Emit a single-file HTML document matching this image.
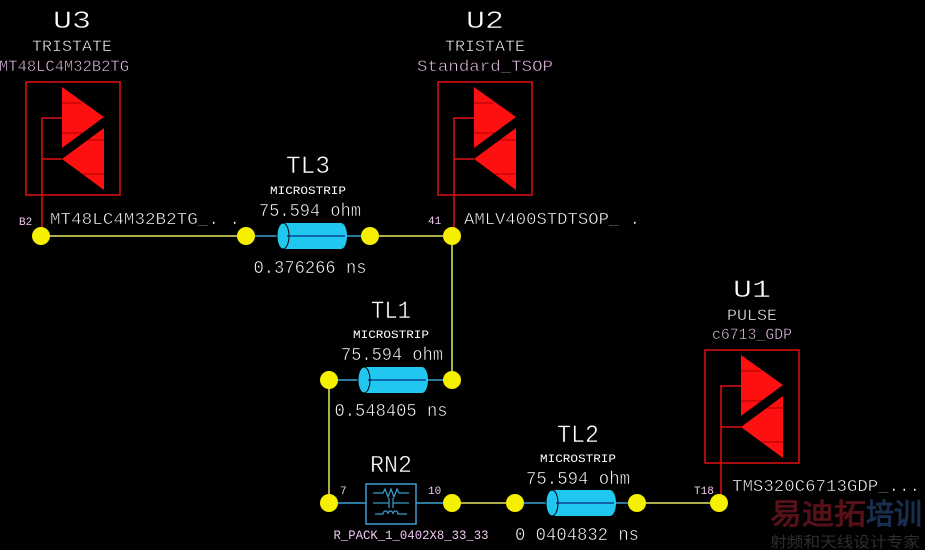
<!DOCTYPE html>
<html><head><meta charset="utf-8"><style>
html,body{margin:0;padding:0;background:#000;}
svg{display:block}
text{font-family:"Liberation Mono","DejaVu Sans Mono",monospace;}
.thin text{stroke:#000;stroke-width:0.5px;}
</style></head><body>
<svg width="925" height="550" viewBox="0 0 925 550" xmlns="http://www.w3.org/2000/svg">
<defs>
<g id="comp">
  <rect x="0" y="0" width="94" height="113" fill="none" stroke="#e01010" stroke-width="1.5"/>
  <polygon points="36,5 78,35 36,66" fill="#ff1010"/>
  <polygon points="78,46 36,77 78,108" fill="#ff1010"/>
  <line x1="36" y1="21" x2="56" y2="21" stroke="#a00" stroke-width="1"/>
  <line x1="36" y1="51" x2="56" y2="51" stroke="#a00" stroke-width="1"/>
  <line x1="62" y1="58" x2="78" y2="58" stroke="#a00" stroke-width="1"/>
  <line x1="56" y1="92" x2="78" y2="92" stroke="#a00" stroke-width="1"/>
  <polyline points="36,36 16,36 16,154" fill="none" stroke="#e01010" stroke-width="1.5"/>
  <line x1="16" y1="77" x2="36" y2="77" stroke="#e01010" stroke-width="1.5"/>
</g>
<g id="cyl">
  <path d="M0,-13 L58,-13 A6,13 0 0 1 58,13 L0,13 A6,13 0 0 1 0,-13 Z" fill="#20c8f0"/>
  <ellipse cx="0" cy="0" rx="6" ry="13" fill="none" stroke="#000" stroke-width="1"/>
  <line x1="4" y1="0" x2="62" y2="0" stroke="#006" stroke-width="1"/>
</g>
</defs>

<g stroke="#e8e860" stroke-width="1.5" fill="none">
  <line x1="41" y1="236" x2="246" y2="236"/>
  <line x1="370" y1="236" x2="452" y2="236"/>
  <line x1="452" y1="236" x2="452" y2="380"/>
  <line x1="329" y1="380" x2="329" y2="503"/>
  <line x1="452" y1="503" x2="515" y2="503"/>
  <line x1="637" y1="503" x2="719" y2="503"/>
</g>
<g stroke="#3aa0d0" stroke-width="1.5">
  <line x1="246" y1="236" x2="370" y2="236"/>
  <line x1="329" y1="380" x2="452" y2="380"/>
  <line x1="515" y1="503" x2="637" y2="503"/>
  <line x1="329" y1="503" x2="366" y2="503"/>
  <line x1="416" y1="503" x2="452" y2="503"/>
</g>

<use href="#comp" x="26" y="82"/>
<use href="#comp" x="438" y="82"/>
<use href="#comp" x="705" y="350"/>

<use href="#cyl" x="283" y="236"/>
<use href="#cyl" x="364" y="380"/>
<use href="#cyl" x="552" y="503"/>

<rect x="366" y="484" width="50" height="40" fill="none" stroke="#3aa0d0" stroke-width="1.5"/>
<g stroke="#3aa0d0" stroke-width="1.2" fill="none">
  <polyline points="373,493 383,493 385,489 388,497 391,489 394,497 397,489 399,493 409,493"/>
  <line x1="373" y1="503" x2="389" y2="503"/><line x1="389" y1="498" x2="389" y2="508"/>
  <line x1="393" y1="498" x2="393" y2="508"/><line x1="393" y1="503" x2="409" y2="503"/>
  <path d="M375,514 L383,514 a2.5,3 0 0 1 5,0 a2.5,3 0 0 1 5,0 a2.5,3 0 0 1 5,0 L407,514"/>
</g>

<g fill="#f5f000">
  <circle cx="41" cy="236" r="9"/><circle cx="246" cy="236" r="9"/><circle cx="370" cy="236" r="9"/><circle cx="452" cy="236" r="9"/>
  <circle cx="329" cy="380" r="9"/><circle cx="452" cy="380" r="9"/>
  <circle cx="329" cy="503" r="9"/><circle cx="452" cy="503" r="9"/><circle cx="515" cy="503" r="9"/><circle cx="637" cy="503" r="9"/><circle cx="719" cy="503" r="9"/>
</g>

<g fill="#fff" text-anchor="middle" font-size="11">
  <text x="308" y="194" textLength="76" lengthAdjust="spacingAndGlyphs">MICROSTRIP</text>
  <text x="391" y="338" textLength="76" lengthAdjust="spacingAndGlyphs">MICROSTRIP</text>
  <text x="578" y="462" textLength="76" lengthAdjust="spacingAndGlyphs">MICROSTRIP</text>
</g>
<g fill="#f0c8f0" font-size="11">
  <text x="19" y="225">B2</text>
  <text x="428" y="224">41</text>
  <text x="340" y="494">7</text>
  <text x="428" y="494">10</text>
  <text x="694" y="494">T18</text>
</g>
<text x="411" y="539" fill="#f0c8f0" text-anchor="middle" font-size="13" textLength="155" lengthAdjust="spacingAndGlyphs">R_PACK_1_0402X8_33_33</text>

<g class="thin">
<g fill="#fff" text-anchor="middle">
  <text x="72" y="28" font-size="25" textLength="38" lengthAdjust="spacingAndGlyphs">U3</text>
  <text x="72" y="51" font-size="16" textLength="80" lengthAdjust="spacingAndGlyphs">TRISTATE</text>
  <text x="485" y="28" font-size="25" textLength="38" lengthAdjust="spacingAndGlyphs">U2</text>
  <text x="485" y="51" font-size="16" textLength="80" lengthAdjust="spacingAndGlyphs">TRISTATE</text>
  <text x="752" y="297" font-size="25" textLength="38" lengthAdjust="spacingAndGlyphs">U1</text>
  <text x="752" y="320" font-size="16" textLength="50" lengthAdjust="spacingAndGlyphs">PULSE</text>

  <text x="308" y="173" font-size="25" textLength="44" lengthAdjust="spacingAndGlyphs">TL3</text>
  <text x="310" y="216" font-size="18" textLength="102" lengthAdjust="spacingAndGlyphs">75.594 ohm</text>
  <text x="310" y="273" font-size="18" textLength="113" lengthAdjust="spacingAndGlyphs">0.376266 ns</text>

  <text x="391" y="318" font-size="25" textLength="40" lengthAdjust="spacingAndGlyphs">TL1</text>
  <text x="392" y="360" font-size="18" textLength="102" lengthAdjust="spacingAndGlyphs">75.594 ohm</text>
  <text x="391" y="416" font-size="18" textLength="113" lengthAdjust="spacingAndGlyphs">0.548405 ns</text>

  <text x="578" y="442" font-size="25" textLength="42" lengthAdjust="spacingAndGlyphs">TL2</text>
  <text x="578" y="484" font-size="18" textLength="104" lengthAdjust="spacingAndGlyphs">75.594 ohm</text>
  <text x="577" y="540" font-size="18" textLength="124" lengthAdjust="spacingAndGlyphs">0 0404832 ns</text>

  <text x="391" y="472" font-size="24" textLength="42" lengthAdjust="spacingAndGlyphs">RN2</text>
</g>
<g fill="#fff">
  <text x="50" y="224" font-size="17" textLength="190" lengthAdjust="spacingAndGlyphs">MT48LC4M32B2TG_. .</text>
  <text x="464" y="224" font-size="17" textLength="176" lengthAdjust="spacingAndGlyphs">AMLV400STDTSOP_ .</text>
  <text x="732" y="491" font-size="17" textLength="188" lengthAdjust="spacingAndGlyphs">TMS320C6713GDP_...</text>
</g>
<g fill="#f0c8f0" text-anchor="middle">
  <text x="64" y="71" font-size="16" textLength="130" lengthAdjust="spacingAndGlyphs">MT48LC4M32B2TG</text>
  <text x="485" y="71" font-size="16" textLength="136" lengthAdjust="spacingAndGlyphs">Standard_TSOP</text>
  <text x="752" y="339" font-size="16" textLength="80" lengthAdjust="spacingAndGlyphs">c6713_GDP</text>
</g>
</g>

<g font-family="'Noto Sans CJK SC',sans-serif" font-weight="bold" font-size="29">
  <text x="770" y="524" fill="#561018" textLength="96" lengthAdjust="spacingAndGlyphs">易迪拓</text>
  <text x="866" y="524" fill="#182e4e" textLength="56" lengthAdjust="spacingAndGlyphs">培训</text>
</g>
<text x="770" y="547" fill="#2e2e2e" font-family="'Noto Sans CJK SC',sans-serif" font-size="15" textLength="150" lengthAdjust="spacingAndGlyphs">射频和天线设计专家</text>
</svg>
</body></html>
